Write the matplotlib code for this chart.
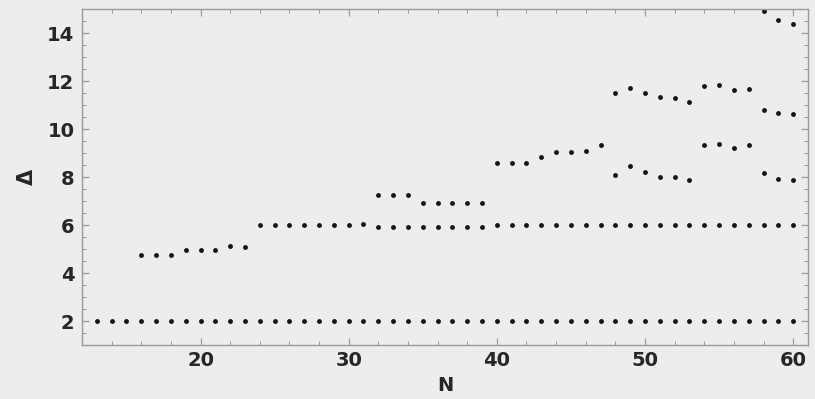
import matplotlib
matplotlib.use("Agg")
import matplotlib.pyplot as plt
from matplotlib.ticker import MultipleLocator

# lowest level, flat at 2
n_flat = [13, 14, 15, 16, 17, 18, 19, 20, 21, 22, 23, 24, 25, 26, 27, 28,
          29, 30, 31, 32, 33, 34, 35, 36, 37, 38, 39, 40, 41, 42, 43, 44,
          45, 46, 47, 48, 49, 50, 51, 52, 53, 54, 55, 56, 57, 58, 59, 60]
d_flat = [2.0, 2.0, 2.0, 2.0, 2.0, 2.0, 2.0, 2.0, 2.0, 2.0, 2.0, 2.0, 2.0, 2.0, 2.0, 2.0,
          2.0, 2.0, 2.0, 2.0, 2.0, 2.0, 2.0, 2.0, 2.0, 2.0, 2.0, 2.0, 2.0, 2.0, 2.0, 2.0,
          2.0, 2.0, 2.0, 2.0, 2.0, 2.0, 2.0, 2.0, 2.0, 2.0, 2.0, 2.0, 2.0, 2.0, 2.0, 2.0]

# second level: 16..23 then ~6 from 24 on
n_second = [16, 17, 18, 19, 20, 21, 22, 23]
d_second = [4.75, 4.75, 4.77, 4.95, 4.95, 4.95, 5.11, 5.08]

n_six = [24, 25, 26, 27, 28, 29, 30, 31, 32, 33, 34, 35, 36, 37, 38, 39,
         40, 41, 42, 43, 44, 45, 46, 47, 48, 49, 50, 51, 52, 53, 54, 55,
         56, 57, 58, 59, 60]
d_six = [6.0, 6.0, 6.0, 6.0, 6.0, 6.02, 6.02, 6.03, 5.92, 5.92, 5.93, 5.92, 5.92, 5.92, 5.92, 5.93,
         6.02, 6.02, 6.02, 6.02, 6.02, 6.02, 6.02, 6.02, 6.02, 6.02, 6.02, 6.02, 6.02, 6.02, 6.02, 6.02,
         6.02, 6.02, 6.02, 6.02, 6.02]

# third level
n_third = [32, 33, 34, 35, 36, 37, 38, 39, 40, 41, 42, 43, 44, 45, 46, 47]
d_third = [7.24, 7.24, 7.24, 6.93, 6.93, 6.93, 6.92, 6.93, 8.6, 8.6, 8.58, 8.83, 9.03, 9.06, 9.1, 9.33]

n_fourth = [48, 49, 50, 51, 52, 53, 54, 55, 56, 57, 58, 59, 60]
d_fourth = [8.07, 8.46, 8.21, 7.99, 7.98, 7.86, 9.32, 9.39, 9.22, 9.32, 8.17, 7.9, 7.88]

n_fifth = [48, 49, 50, 51, 52, 53, 54, 55, 56, 57, 58, 59, 60]
d_fifth = [11.49, 11.70, 11.52, 11.32, 11.31, 11.14, 11.79, 11.83, 11.64, 11.65, 10.79, 10.67, 10.64]

n_top = [58, 59, 60]
d_top = [14.9, 14.54, 14.36]

series = [(n_flat, d_flat), (n_second, d_second), (n_six, d_six), (n_third, d_third),
          (n_fourth, d_fourth), (n_fifth, d_fifth), (n_top, d_top)]

bg = "#ededed"
text_col = "#262626"
frame_col = "#9a9a9a"

fig = plt.figure(figsize=(8.15, 3.99), dpi=100, facecolor=bg)
ax = fig.add_axes([0.1006, 0.1353, 0.8908, 0.8421], facecolor=bg)

for n, d in series:
    ax.plot(n, d, linestyle="none", marker="o", markersize=3.5,
            color="#141414", markeredgewidth=0, clip_on=False)

ax.set_xlim(12, 61)
ax.set_ylim(1, 15)
ax.xaxis.set_major_locator(MultipleLocator(10))
ax.xaxis.set_minor_locator(MultipleLocator(2))
ax.yaxis.set_major_locator(MultipleLocator(2))
ax.yaxis.set_minor_locator(MultipleLocator(0.5))

for sp in ax.spines.values():
    sp.set_color(frame_col)
    sp.set_linewidth(1.0)

ax.tick_params(which="both", direction="in", top=True, right=True,
               color=frame_col, labelcolor=text_col)
ax.tick_params(which="major", length=5, width=0.9, labelsize=14)
ax.tick_params(which="minor", length=3, width=0.7)
ax.tick_params(axis="x", which="major", pad=4.5)
ax.tick_params(axis="y", which="major", pad=5.5)
for lab in ax.get_xticklabels() + ax.get_yticklabels():
    lab.set_fontfamily("DejaVu Sans")
    lab.set_fontweight("bold")

ax.set_xlabel("N", fontsize=14, fontweight="bold", color=text_col,
              family="DejaVu Sans", labelpad=4)
ax.set_ylabel("Δ", fontsize=15, fontweight="bold", color=text_col,
              family="DejaVu Sans", labelpad=7.5)

fig.savefig("out.png", dpi=100, facecolor=bg)
